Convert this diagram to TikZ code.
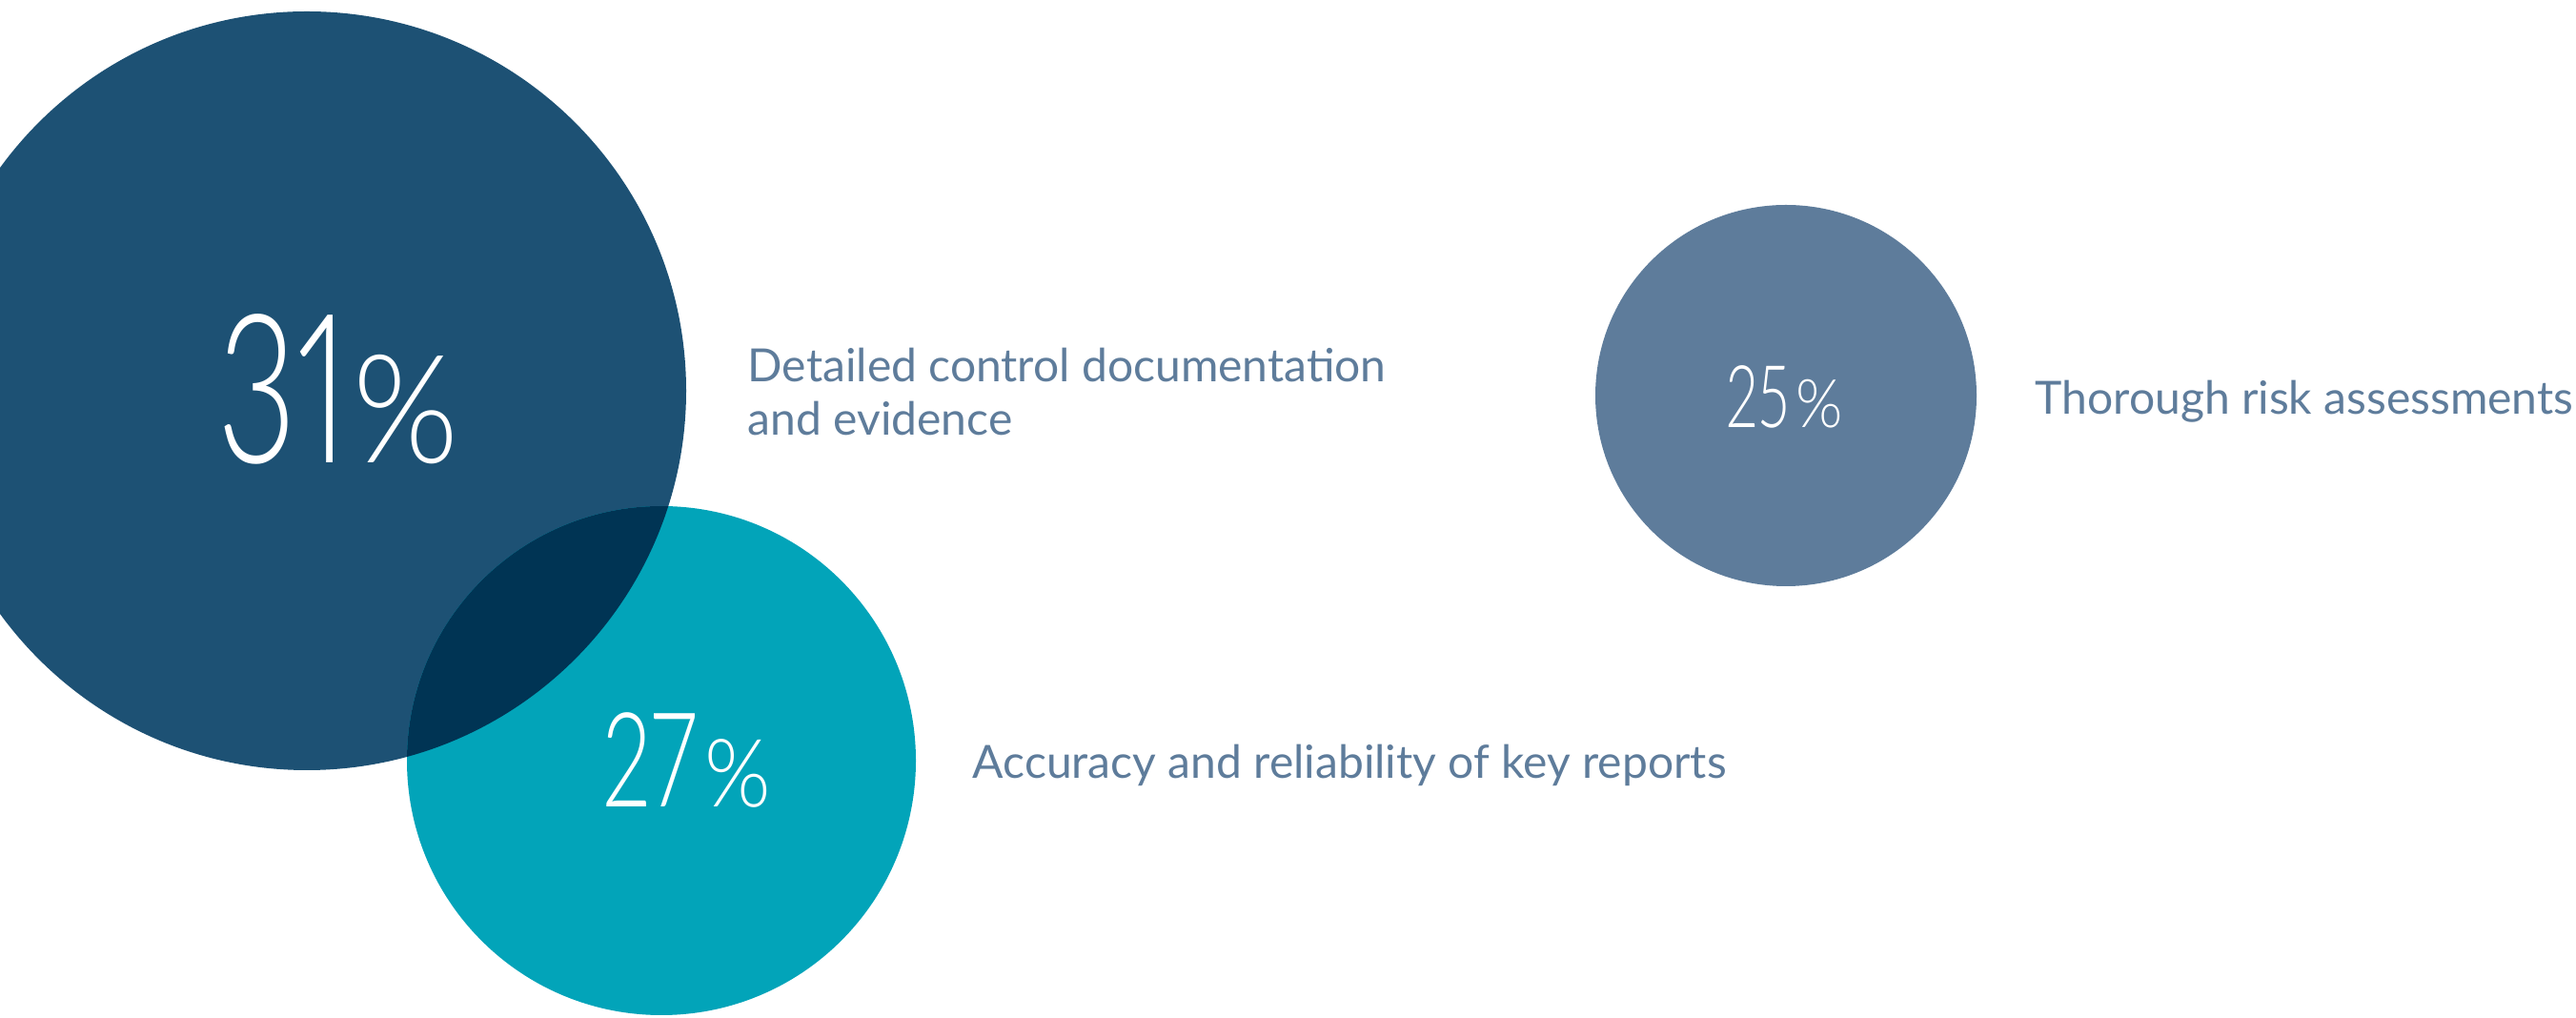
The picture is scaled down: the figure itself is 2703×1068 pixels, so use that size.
\documentclass[tikz,border=0pt]{standalone}
\usepackage{fontspec}
\setmainfont{Lato}
\newfontfamily\pctfont[FakeStretch=0.66, Numbers=Proportional]{Lato Light}
\newfontfamily\signfont[FakeStretch=0.9]{Lato Light}
\usetikzlibrary{positioning}

\definecolor{bigblue}{HTML}{1D5174}
\definecolor{tealblue}{HTML}{02A4B9}
\definecolor{slateblue}{HTML}{5E7C9B}
\definecolor{deepblue}{HTML}{003454}

\begin{document}
\begin{tikzpicture}[x=0.01cm, y=-0.01cm]
        % Bubble formulae (pixels of the page)
        \pgfmathsetmacro{\rbig}{398}
        \pgfmathsetmacro{\rmid}{267}
        \pgfmathsetmacro{\rsmall}{200}

        \tikzset{
            figure/.style={text=white, inner sep=0, anchor=base west},
            caption/.style={text=slateblue, inner sep=0, anchor=base west,
            align=left, font=\fontsize{13.65}{16.2}\selectfont},
        }

        \useasboundingbox (0, 0) rectangle (2703, 1068);
        \clip (0, 0) rectangle (2703, 1068);

        \coordinate (C1) at (322, 410);
        \coordinate (C2) at (694, 798);
        \coordinate (C3) at (1874, 415);

        % Bubbles
        \fill[bigblue] (C1) circle (\rbig);
        \fill[tealblue] (C2) circle (\rmid);
        \fill[slateblue] (C3) circle (\rsmall);

        % Overlap of the two left bubbles
        \begin{scope}
            \clip (C1) circle (\rbig);
            \fill[deepblue] (C2) circle (\rmid);
        \end{scope}

        % Percentages
        \node[figure] (P1) at (228, 486) {\pctfont\fontsize{62}{62}\selectfont
        31\kern1.5pt{\signfont\fontsize{45}{45}\selectfont\%}};
        \node[figure] (P2) at (632, 847) {\pctfont\fontsize{39.3}{39.3}\selectfont
        27\kern2.5pt{\signfont\fontsize{28.2}{28.2}\selectfont\%}};
        \node[figure] (P3) at (1811, 449) {\pctfont\fontsize{25.8}{25.8}\selectfont
        25\kern2pt{\signfont\fontsize{20}{20}\selectfont\%}};

        % Captions (two-line node sits on its last line)
        \node[caption] (T1) at (784, 457) {Detailed control documentation\\and evidence};
        \node[caption] (T2) at (1020, 817) {Accuracy and reliability of key reports};
        \node[caption] (T3) at (2135, 435) {Thorough risk assessments};

        \end{tikzpicture}
\end{document}
